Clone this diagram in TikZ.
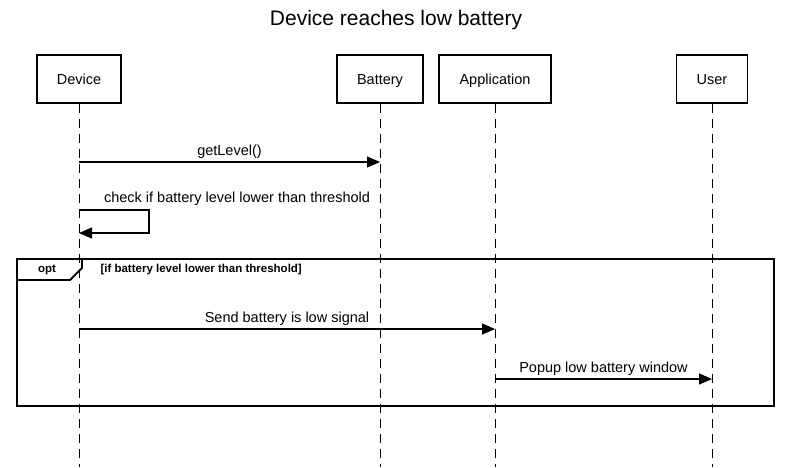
\documentclass[tikz,border=0pt]{standalone}
\usepackage{fontspec}
\setmainfont{Liberation Sans}
\usetikzlibrary{arrows.meta,positioning}

\begin{document}
\begin{tikzpicture}[%
    x=1pt, y=-1pt,                        % pixel-like grid, top-down
    >={Triangle[length=13pt,width=11pt]}, % filled message heads
    every node/.style={font=\fontsize{14.5}{17}\selectfont},
    ]
% -------------------------------------------------
% Styles for the participants, lifelines and messages
\tikzset{
  actor/.style={draw, line width=1.8pt, minimum height=48pt, inner sep=0pt,
    text height=10.5pt, text depth=0pt, fill=white},
  life/.style={dash pattern=on 9pt off 6pt, line width=1pt},
  msg/.style={->, line width=1.1pt},
  lbl/.style={above, inner sep=3pt},
  frame/.style={line width=1.8pt},
  tag/.style={font=\fontsize{11.5}{13}\selectfont\bfseries}
}
\useasboundingbox (0,0) rectangle (791,467);
% -------------------------------------------------
% Title and participants
\node [font=\fontsize{21}{25}\selectfont] (title) at (396,20) {Device reaches low battery};
\node [actor, minimum width=84pt] (dev) at (79,79) {Device};
\node [actor, minimum width=86pt] (bat) at (380,79) {Battery};
\node [actor, minimum width=112pt] (app) at (495,79) {Application};
\node [actor, minimum width=71pt] (usr) at (712,79) {User};

% Lifelines down to the bottom edge
\foreach \n in {dev,bat,app,usr}
  \draw [life] (\n.south) -- (\n.south |- 0,467);

% -------------------------------------------------
% Messages
\draw [msg] (dev |- 0,162) -- node [lbl] {getLevel()} (bat |- 0,162);

\coordinate (loop) at (149,233);
\draw [msg] (dev |- 0,210) -| (loop) -- (dev |- loop);
\node (check) at (237,199) {check if battery level lower than threshold};

% opt fragment
\draw [frame] (17,259) rectangle (774,406);
\draw [frame] (17,280) -- (70,280) -- (82,268) -- (82,259);
\node [tag] (opt) at (47,270) {opt};
\node [tag, anchor=west] (guard) at (97,270) {[if battery level lower than threshold]};

\draw [msg] (dev |- 0,329) -- node [lbl] {Send battery is low signal} (app |- 0,329);
\draw [msg] (app |- 0,379) -- node [lbl] {Popup low battery window} (usr |- 0,379);
% -------------------------------------------------
\end{tikzpicture}
\end{document}
